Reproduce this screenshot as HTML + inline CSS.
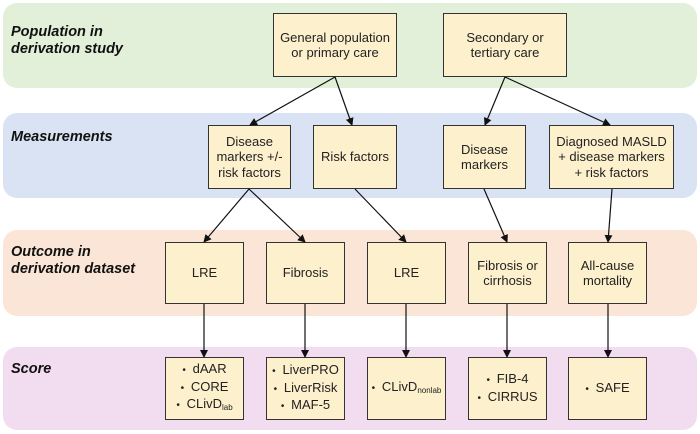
<!DOCTYPE html><html><head><style>
body{margin:0;width:700px;height:434px;background:#fff;position:relative;font-family:"Liberation Sans",sans-serif;overflow:hidden}
.band{position:absolute;left:3px;width:694px;border-radius:14px}
.lab{position:absolute;left:11px;font-weight:bold;font-style:italic;font-size:14.5px;line-height:17px;color:#111}
.b{position:absolute;background:#fdf0cc;border:1.5px solid #333;box-sizing:border-box;display:flex;align-items:center;justify-content:center;text-align:center;font-size:13px;line-height:15.5px;color:#222}
ul{margin:0;padding:0;list-style:none;text-align:center}
li:before{content:"• ";font-size:10px;margin-right:4px}
sub{font-size:8px;vertical-align:-2px}
svg{position:absolute;left:0;top:0}
</style></head><body>
<div class="band" style="top:3px;height:85px;background:#e2efd9"></div>
<div class="band" style="top:113px;height:85px;background:#dae3f3"></div>
<div class="band" style="top:230px;height:86px;background:#fbe5d6"></div>
<div class="band" style="top:347px;height:83px;background:#f2dcef"></div>
<div class="lab" style="top:24px">Population in<br>derivation study</div>
<div class="lab" style="top:129px">Measurements</div>
<div class="lab" style="top:244px">Outcome in<br>derivation dataset</div>
<div class="lab" style="top:361px">Score</div>

<div class="b" style="left:273px;top:13px;width:124px;height:64px">General population<br>or primary care</div>
<div class="b" style="left:443px;top:13px;width:124px;height:64px">Secondary or<br>tertiary care</div>

<div class="b" style="left:208px;top:125px;width:83px;height:64px">Disease<br>markers +/-<br>risk factors</div>
<div class="b" style="left:313px;top:125px;width:84px;height:64px">Risk factors</div>
<div class="b" style="left:443px;top:125px;width:83px;height:64px">Disease<br>markers</div>
<div class="b" style="left:549px;top:125px;width:125px;height:64px">Diagnosed MASLD<br>+ disease markers<br>+ risk factors</div>

<div class="b" style="left:165px;top:242px;width:79px;height:62px">LRE</div>
<div class="b" style="left:266px;top:242px;width:79px;height:62px">Fibrosis</div>
<div class="b" style="left:367px;top:242px;width:79px;height:62px">LRE</div>
<div class="b" style="left:468px;top:242px;width:79px;height:62px">Fibrosis or<br>cirrhosis</div>
<div class="b" style="left:568px;top:242px;width:79px;height:62px">All-cause<br>mortality</div>

<div class="b" style="left:165px;top:357px;width:79px;height:63px"><ul><li>dAAR</li><li>CORE</li><li>CLivD<sub>lab</sub></li></ul></div>
<div class="b" style="left:266px;top:357px;width:79px;height:63px"><ul><li>LiverPRO</li><li>LiverRisk</li><li>MAF-5</li></ul></div>
<div class="b" style="left:367px;top:357px;width:79px;height:63px"><ul><li>CLivD<sub>nonlab</sub></li></ul></div>
<div class="b" style="left:468px;top:357px;width:79px;height:63px"><ul><li>FIB-4</li><li>CIRRUS</li></ul></div>
<div class="b" style="left:568px;top:357px;width:79px;height:63px"><ul><li>SAFE</li></ul></div>

<svg width="700" height="434"><defs><marker id="a" markerWidth="8" markerHeight="8" refX="7" refY="4" orient="auto" markerUnits="userSpaceOnUse"><path d="M0,0L8,4L0,8z" fill="#111"/></marker></defs>
<g stroke="#111" stroke-width="1.2" marker-end="url(#a)">
<line x1="335" y1="77" x2="250" y2="125"/>
<line x1="335" y1="77" x2="352" y2="125"/>
<line x1="505" y1="77" x2="485" y2="125"/>
<line x1="505" y1="77" x2="610" y2="125"/>
<line x1="249" y1="189" x2="204" y2="242"/>
<line x1="249" y1="189" x2="305" y2="242"/>
<line x1="355" y1="189" x2="406" y2="242"/>
<line x1="484" y1="189" x2="507" y2="242"/>
<line x1="612" y1="189" x2="608" y2="242"/>
<line x1="204" y1="304" x2="204" y2="357"/>
<line x1="305" y1="304" x2="305" y2="357"/>
<line x1="406" y1="304" x2="406" y2="357"/>
<line x1="507" y1="304" x2="507" y2="357"/>
<line x1="608" y1="304" x2="608" y2="357"/>
</g></svg>
</body></html>
